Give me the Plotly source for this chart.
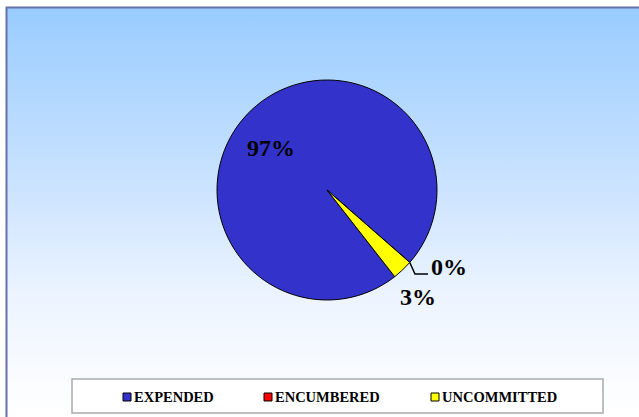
import base64
import math
import plotly.graph_objects as go

# Budget status shares
categories = ["EXPENDED", "ENCUMBERED", "UNCOMMITTED"]
values = [97, 0, 3]
colors = ["#3333CC", "#FF0000", "#FFFF00"]

W, H = 639, 417
SERIF = "Times New Roman, Liberation Serif, Times, serif"


def px(x):
    return x / W


def py(y):
    return 1 - y / H


# Pie geometry (pixels)
cx, cy, r = 327, 190, 110
rotation = 142

fig = go.Figure()
fig.add_trace(go.Pie(
    labels=categories,
    values=values,
    marker=dict(colors=colors, line=dict(color="#000000", width=1)),
    sort=False,
    direction="clockwise",
    rotation=rotation,
    textinfo="none",
    hoverinfo="label+percent",
    showlegend=False,
    domain=dict(x=[px(cx - r), px(cx + r)], y=[py(cy + r), py(cy - r)]),
))

total = sum(values)
pct = [f"{round(100 * v / total)}%" for v in values]

# Percentage labels
label_font = dict(family=SERIF, size=24, color="#000000")
label_pos = [(271, 148), (449, 267), (418, 297)]
for text, (lx, ly) in zip(pct, label_pos):
    fig.add_annotation(x=px(lx), y=py(ly), xref="paper", yref="paper",
                       text=f"<b>{text}</b>", showarrow=False,
                       font=label_font, xanchor="center", yanchor="middle")

# Leader line for the zero slice, starting at its boundary on the rim
ang = math.radians(rotation + 360 * values[0] / total)
sx, sy = cx + r * math.sin(ang), cy - r * math.cos(ang)
fig.add_shape(type="path", xref="paper", yref="paper",
              path=f"M {px(sx)} {py(sy)} L {px(415)} {py(274)} L {px(428)} {py(274)}",
              line=dict(color="#000000", width=1.5))

# Background gradient for the chart area
svg = (
    '<svg xmlns="http://www.w3.org/2000/svg" width="100" height="100" preserveAspectRatio="none">'
    '<defs><linearGradient id="g" x1="0" y1="0" x2="0" y2="1">'
    '<stop offset="0" stop-color="#99CCFF"/>'
    '<stop offset="0.45" stop-color="#CDE4FF"/>'
    '<stop offset="0.72" stop-color="#EEF5FF"/>'
    '<stop offset="1" stop-color="#FFFFFF"/>'
    '</linearGradient></defs>'
    '<rect width="100" height="100" fill="url(#g)"/></svg>'
)
src = "data:image/svg+xml;base64," + base64.b64encode(svg.encode()).decode()
fig.add_layout_image(source=src, xref="paper", yref="paper",
                     x=px(7), y=py(8), sizex=px(W - 7), sizey=py(8),
                     xanchor="left", yanchor="top", sizing="stretch", layer="below")

# Chart area frame
fig.add_shape(type="rect", xref="paper", yref="paper",
              x0=px(6.5), y0=py(430), x1=px(660), y1=py(7.5),
              line=dict(color="#6670A8", width=2), fillcolor="rgba(0,0,0,0)", layer="below")

# Legend box
fig.add_shape(type="rect", xref="paper", yref="paper",
              x0=px(72), y0=py(413), x1=px(603), y1=py(379),
              line=dict(color="#ABABAB", width=1.5), fillcolor="#FFFFFF", layer="below")

legend_x = [123, 264, 431]
legend_y = 397
for name, col, lx in zip(categories, colors, legend_x):
    fig.add_shape(type="rect", xref="paper", yref="paper",
                  x0=px(lx), y0=py(legend_y + 4), x1=px(lx + 8), y1=py(legend_y - 4),
                  line=dict(color="#000000", width=1), fillcolor=col)
    fig.add_annotation(x=px(lx + 9), y=py(legend_y), xref="paper", yref="paper",
                       text=f"<b>{name}</b>", showarrow=False,
                       font=dict(family=SERIF, size=14.5, color="#000000"),
                       xanchor="left", yanchor="middle")

fig.update_layout(
    width=W, height=H,
    margin=dict(l=0, r=0, t=0, b=0),
    paper_bgcolor="#FFFFFF",
    plot_bgcolor="rgba(0,0,0,0)",
)

fig.write_html("out.html", config={"displayModeBar": False})
